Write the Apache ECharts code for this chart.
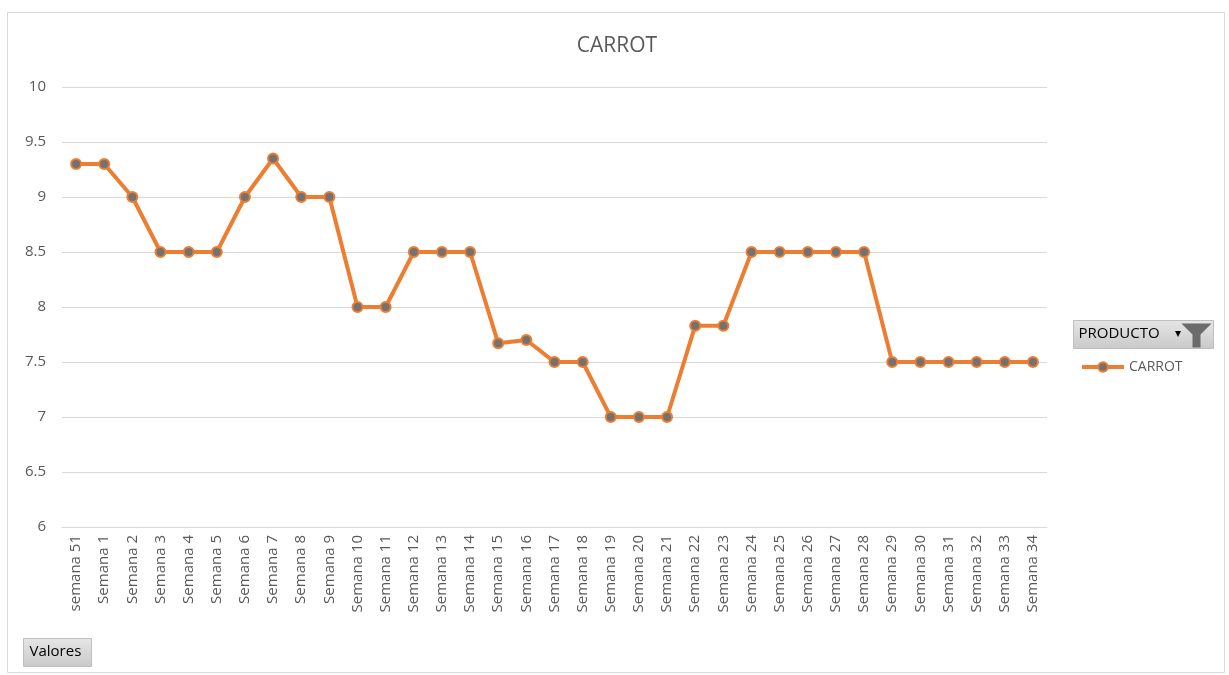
<!DOCTYPE html>
<html>
<head>
<meta charset="utf-8">
<script src="https://cdn.jsdelivr.net/npm/echarts@6/dist/echarts.min.js"></script>
<style>
    html, body {margin: 0; padding: 0; background: #fff;}
    #chart {width: 1229px; height: 675px;}
</style>
</head>
<body>
<div id="chart"></div>
<script>
// semanas y precios
const semanas = ['semana 51', 'Semana 1', 'Semana 2', 'Semana 3', 'Semana 4', 'Semana 5', 'Semana 6',
    'Semana 7', 'Semana 8', 'Semana 9', 'Semana 10', 'Semana 11', 'Semana 12', 'Semana 13', 'Semana 14',
    'Semana 15', 'Semana 16', 'Semana 17', 'Semana 18', 'Semana 19', 'Semana 20', 'Semana 21', 'Semana 22',
    'Semana 23', 'Semana 24', 'Semana 25', 'Semana 26', 'Semana 27', 'Semana 28', 'Semana 29', 'Semana 30',
    'Semana 31', 'Semana 32', 'Semana 33', 'Semana 34'];
const carrot = [9.3, 9.3, 9, 8.5, 8.5, 8.5, 9, 9.35, 9, 9, 8, 8, 8.5, 8.5, 8.5,
    7.67, 7.7, 7.5, 7.5, 7, 7, 7, 7.83, 7.83, 8.5, 8.5, 8.5, 8.5, 8.5,
    7.5, 7.5, 7.5, 7.5, 7.5, 7.5];
const yTicks = {min: 6, max: 10, interval: 0.5};

const font = '"Open Sans", "Noto Sans", sans-serif';
const myChart = echarts.init(document.getElementById('chart'));

myChart.setOption({
    animation: false,
    textStyle: {fontFamily: font},
    title: {
        text: 'CARROT',
        left: 612,
        top: 31,
        textAlign: 'center',
        textStyle: {fontSize: 21, fontWeight: 'normal', color: '#595959', fontFamily: font}
    },
    legend: {
        data: ['CARROT'],
        left: 1080,
        top: 360,
        padding: 0,
        itemWidth: 42,
        itemHeight: 12,
        lineStyle: {width: 4},
        textStyle: {fontSize: 14, color: '#595959'}
    },
    grid: {left: 62, right: 182, top: 87, bottom: 148},
    xAxis: {
        type: 'category',
        data: semanas,
        boundaryGap: true,
        axisLine: {lineStyle: {color: '#d9d9d9', width: 1}},
        axisTick: {show: false},
        axisLabel: {
            rotate: 90,
            interval: 0,
            color: '#595959',
            fontSize: 15,
            margin: 8
        }
    },
    yAxis: {
        type: 'value',
        min: yTicks.min,
        max: yTicks.max,
        interval: yTicks.interval,
        axisLine: {show: false},
        axisTick: {show: false},
        axisLabel: {color: '#595959', fontSize: 15, margin: 16},
        splitLine: {lineStyle: {color: '#d9d9d9', width: 1}}
    },
    series: [{
        name: 'CARROT',
        type: 'line',
        data: carrot,
        symbol: 'circle',
        symbolSize: 10,
        lineStyle: {color: '#ED7D31', width: 4},
        itemStyle: {color: '#767171', borderColor: '#ED7D31', borderWidth: 2}
    }],
    graphic: [
        {
            type: 'rect', left: 5, top: 10, silent: true,
            shape: {width: 1217, height: 660},
            style: {fill: 'none', stroke: '#d9d9d9', lineWidth: 1}
        },
        {
            type: 'group', left: 1073, top: 320,
            children: [
                {
                    type: 'rect', shape: {width: 140, height: 28},
                    style: {
                        fill: new echarts.graphic.LinearGradient(0, 0, 0, 1, [
                            {offset: 0, color: '#e6e6e6'}, {offset: 1, color: '#c9c9c9'}
                        ]),
                        stroke: '#bfbfbf'
                    }
                },
                {
                    type: 'text', x: 5, y: 6,
                    style: {text: 'PRODUCTO', fontSize: 15, fill: '#000', fontFamily: font}
                },
                {
                    type: 'text', x: 101, y: 7,
                    style: {text: '▾', fontSize: 12, fill: '#000'}
                },
                {
                    type: 'polygon',
                    shape: {points: [[108, 3], [138, 3], [127, 14], [127, 27], [119, 27], [119, 14]]},
                    style: {fill: '#6b6b6b'}
                }
            ]
        },
        {
            type: 'group', left: 23, top: 638,
            children: [
                {
                    type: 'rect', shape: {width: 68, height: 28},
                    style: {
                        fill: new echarts.graphic.LinearGradient(0, 0, 0, 1, [
                            {offset: 0, color: '#e6e6e6'}, {offset: 1, color: '#c9c9c9'}
                        ]),
                        stroke: '#bfbfbf'
                    }
                },
                {
                    type: 'text', x: 6, y: 6,
                    style: {text: 'Valores', fontSize: 15, fill: '#000', fontFamily: font}
                }
            ]
        }
    ]
});
</script>
</body>
</html>
